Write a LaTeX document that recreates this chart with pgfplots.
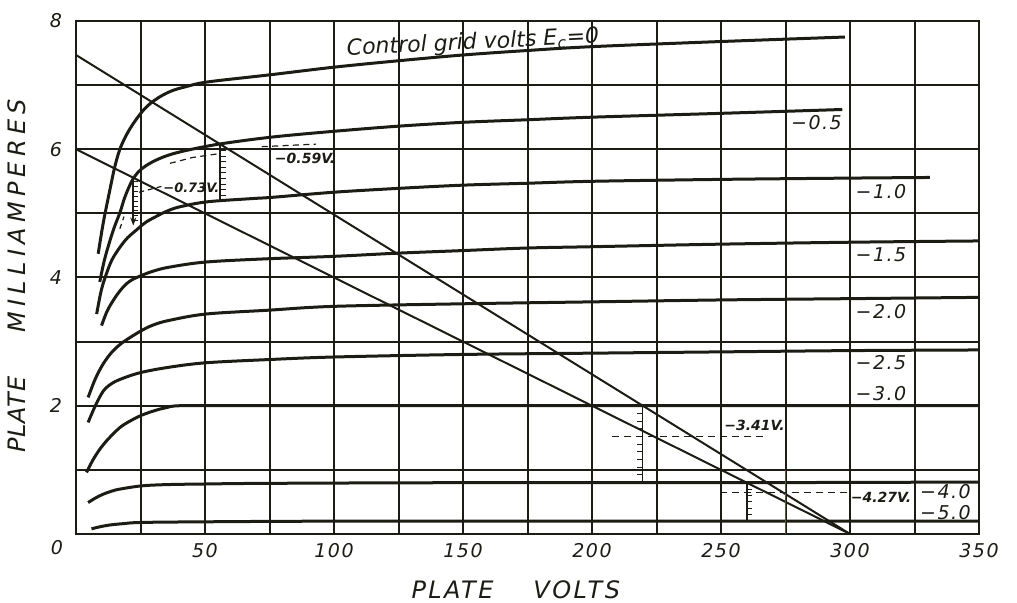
\documentclass[border=0pt]{standalone}
\usepackage{pgfplots}
\pgfplotsset{compat=1.18}
\usepackage{fontspec}
\setmainfont{DejaVu Sans}
\usetikzlibrary{arrows.meta}
\definecolor{ink}{HTML}{1C1C14}
\definecolor{redline}{HTML}{B03040}
\newcommand{\lab}{\fontsize{9.5}{10}\selectfont\itshape\addfontfeatures{LetterSpace=8}}
\newcommand{\ann}{\fontsize{7}{8}\selectfont\itshape}
\newcommand{\axlab}{\fontsize{12}{14}\selectfont\itshape}

\begin{document}
\begin{tikzpicture}
\path[use as bounding box] (-38pt,-34.5pt) rectangle (470.5pt,267pt);
\begin{axis}[
  at={(0,0)}, anchor=south west,
  scale only axis, width=451.5pt, height=256.5pt,
  xmin=0, xmax=350, ymin=0, ymax=8,
  clip=false,
  axis line style={ink, line width=1pt},
  xtick={50,100,150,200,250,300,350},
  xticklabels={50,100,150,200,250,300,350},
  minor xtick={25,75,125,175,225,275,325},
  ytick={2,4,6,8}, yticklabels={2,4,6,8},
  minor ytick={1,3,5,7},
  grid=both,
  grid style={ink, line width=1pt, solid},
  major grid style={ink, line width=1pt, solid},
  minor grid style={ink, line width=1pt, solid, opacity=1},
  major tick length=0pt, minor tick length=0pt,
  tick label style={font=\lab, text=ink},
  xticklabel style={yshift=-1.2pt},
  yticklabel style={xshift=-3.5pt},
  xlabel={{\addfontfeatures{LetterSpace=10}PLATE}\hspace{20pt}{\addfontfeatures{LetterSpace=10}VOLTS}},
  xlabel style={at={(axis description cs:0.487,-0.109)}, anchor=center, font=\axlab, text=ink},
  ylabel={{\addfontfeatures{LetterSpace=4}PLATE}\hspace{22pt}{\addfontfeatures{LetterSpace=22}MILLIAMPERES}},
  ylabel style={at={(axis description cs:-0.0653,0.503)}, anchor=center, font=\axlab, text=ink},
]
% characteristic curves
\pgfplotsset{curve/.style={ink, line width=1.5pt, smooth, tension=0.55}}
\addplot[curve] coordinates {(8.6,4.37) (10.6,4.86) (13.2,5.38) (15,5.72) (17,6.0) (19.5,6.22) (22.2,6.4) (25.5,6.58) (28.7,6.71) (33,6.83) (37.7,6.92) (43,6.98) (48,7.03) (55,7.07) (75,7.16) (100,7.28) (125,7.38) (150,7.47) (175,7.54) (200,7.6) (250,7.68) (298,7.75)};
\addplot[curve] coordinates {(9.2,3.93) (11,4.27) (13.2,4.58) (15,4.8) (17.1,5.02) (19,5.26) (21.6,5.5) (24,5.64) (27,5.74) (31,5.83) (36,5.91) (42.6,5.98) (55.4,6.08) (76,6.19) (100,6.28) (125,6.36) (150,6.42) (175,6.46) (200,6.5) (250,6.56) (297,6.62)};
\addplot[curve] coordinates {(8,3.43) (9.8,3.8) (11.8,4.06) (14,4.28) (17,4.47) (20,4.62) (24,4.76) (27,4.86) (31,4.95) (35,5.03) (40,5.1) (50.8,5.18) (68,5.23) (76,5.25) (100,5.33) (125,5.39) (150,5.44) (175,5.47) (200,5.5) (250,5.53) (300,5.55) (331,5.56)};
\addplot[curve] coordinates {(9.9,3.25) (12,3.47) (14.4,3.64) (17,3.79) (19.5,3.9) (22,3.97) (25.9,4.04) (30,4.1) (36,4.16) (50,4.24) (73,4.29) (100,4.33) (125,4.38) (150,4.42) (175,4.46) (200,4.48) (250,4.52) (300,4.55) (350,4.57)};
\addplot[curve] coordinates {(4.7,2.13) (7.5,2.42) (10.5,2.65) (14,2.84) (18.2,2.99) (25.3,3.17) (30,3.26) (36,3.33) (50.3,3.43) (74.6,3.49) (100,3.55) (150,3.59) (200,3.62) (250,3.65) (300,3.67) (350,3.69)};
\addplot[curve] coordinates {(4.7,1.74) (7.5,2.0) (10.6,2.23) (14,2.35) (18.3,2.43) (25.3,2.52) (36,2.6) (50.3,2.67) (74.6,2.72) (100,2.76) (150,2.8) (200,2.82) (250,2.84) (300,2.86) (350,2.87)};
\addplot[curve] coordinates {(4.1,0.96) (6.5,1.15) (9.2,1.32) (12,1.46) (14.4,1.56) (17,1.66) (20,1.74) (25.3,1.85) (31,1.93) (35,1.97) (40,2.0) (60,2.0) (100,2.0) (200,2.0) (350,2.0)};
\addplot[curve] coordinates {(4.7,0.49) (7.5,0.56) (10.5,0.62) (14,0.67) (17,0.7) (25.3,0.75) (35,0.77) (50.3,0.78) (75,0.79) (150,0.8) (250,0.8) (350,0.81)};
\addplot[curve] coordinates {(6,0.08) (9,0.11) (13,0.14) (18,0.16) (25.3,0.18) (50,0.19) (100,0.2) (200,0.2) (350,0.2)};
% load lines
\addplot[ink, line width=1pt] coordinates {(0,7.47) (300,0)};
\addplot[ink, line width=1pt] coordinates {(0,6.0) (300,0)};
% red marker line
\addplot[redline, line width=0.6pt] coordinates {(275,0) (275,1)};
% annotation: -0.59 V
\addplot[ink, line width=0.7pt] coordinates {(55.8,5.2) (55.8,6.06)};
\addplot[ink, only marks, mark=-, mark size=1.6pt, mark options={xshift=1.6pt, line width=0.5pt}] coordinates {(55.8,5.286) (55.8,5.372) (55.8,5.458) (55.8,5.544) (55.8,5.63) (55.8,5.716) (55.8,5.802) (55.8,5.888) (55.8,5.974)};
\addplot[ink, line width=0.6pt, dashed, dash pattern=on 3pt off 2.2pt] coordinates {(36.4,5.78) (45,5.87) (55.2,5.93)};
\addplot[ink, line width=0.6pt, dashed, dash pattern=on 3pt off 2.2pt] coordinates {(72,6.04) (93,6.08)};
\node[font=\ann\bfseries, text=ink] at (axis cs:88.8,5.85) {−0.59V.};
% annotation: -0.73 V
\addplot[ink, line width=0.8pt, -{Stealth[length=4pt,width=3pt]}] coordinates {(22.2,5.57) (22.2,4.81)};
\addplot[ink, only marks, mark=-, mark size=1.2pt, mark options={xshift=1.3pt, line width=0.5pt}] coordinates {(22.2,4.886) (22.2,4.962) (22.2,5.038) (22.2,5.114) (22.2,5.19) (22.2,5.266) (22.2,5.342) (22.2,5.418) (22.2,5.494)};
\addplot[ink, line width=0.6pt, dashed, dash pattern=on 2.5pt off 2pt] coordinates {(17,4.76) (18.6,4.95)};
\addplot[ink, line width=0.6pt, dashed, dash pattern=on 2.5pt off 2pt] coordinates {(24.5,5.33) (34,5.43)};
\node[font=\fontsize{6.5}{7}\selectfont\itshape\bfseries, text=ink] at (axis cs:44.7,5.4) {−0.73V.};
% annotation: -3.41 V
\addplot[ink, line width=0.7pt] coordinates {(219.6,0.8) (219.6,2.0)};
\addplot[ink, only marks, mark=-, mark size=1.4pt, mark options={xshift=-1.4pt, line width=0.5pt}] coordinates {(219.6,0.92) (219.6,1.04) (219.6,1.16) (219.6,1.28) (219.6,1.4) (219.6,1.52) (219.6,1.64) (219.6,1.76) (219.6,1.88)};
\addplot[ink, line width=0.6pt, dashed, dash pattern=on 3.5pt off 2.5pt] coordinates {(207.6,1.52) (267,1.52)};
\node[font=\ann\bfseries, text=ink] at (axis cs:263,1.69) {−3.41V.};
% annotation: -4.27 V
\addplot[ink, line width=0.7pt] coordinates {(260,0.22) (260,0.8)};
\addplot[ink, only marks, mark=-, mark size=1.4pt, mark options={xshift=1.4pt, line width=0.5pt}] coordinates {(260,0.3) (260,0.4) (260,0.5) (260,0.6) (260,0.7)};
\addplot[ink, line width=0.6pt, dashed, dash pattern=on 3.5pt off 2.5pt] coordinates {(249.6,0.645) (300,0.645)};
\node[font=\ann\bfseries, text=ink] at (axis cs:312,0.57) {−4.27V.};
% curve labels
\node[font=\fontsize{11}{12}\selectfont\itshape, text=ink, rotate=2.7, anchor=base] at (axis cs:154,7.56) {Control grid volts E\textsubscript{c}=0};
\node[font=\lab, text=ink] at (axis cs:287,6.41) {−0.5};
\node[font=\lab, text=ink] at (axis cs:312,5.34) {−1.0};
\node[font=\lab, text=ink] at (axis cs:312,4.36) {−1.5};
\node[font=\lab, text=ink] at (axis cs:312,3.47) {−2.0};
\node[font=\lab, text=ink] at (axis cs:312,2.67) {−2.5};
\node[font=\lab, text=ink] at (axis cs:312,2.19) {−3.0};
\node[font=\lab, text=ink] at (axis cs:337,0.655) {−4.0};
\node[font=\lab, text=ink] at (axis cs:337,0.34) {−5.0};
\node[font=\lab, text=ink, xshift=-9.5pt, yshift=-7pt] at (axis cs:0,0) {0};
\end{axis}
\end{tikzpicture}
\end{document}
